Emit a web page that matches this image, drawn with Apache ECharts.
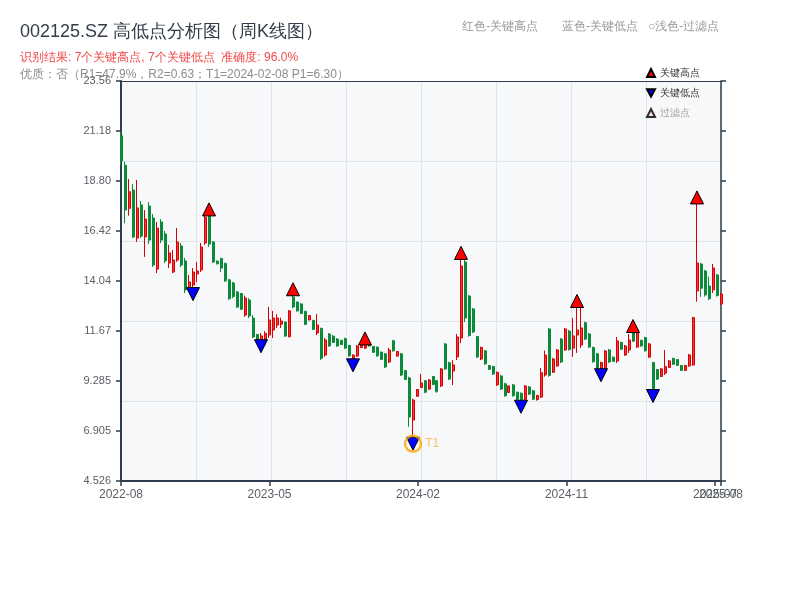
<!DOCTYPE html>
<html>
<head>
<meta charset="utf-8">
<script src="https://cdn.jsdelivr.net/npm/echarts@6/dist/echarts.min.js"></script>
<style>html,body{margin:0;padding:0;background:#fff;}#c{width:800px;height:600px;}</style>
</head>
<body>
<div id="c"></div>
<script>
// weekly candles: [open, close, low, high]
const weeklyOHLC = [
[20.95,19.75,19.55,21.15],[19.55,17.42,16.79,19.72],[17.50,18.29,17.15,18.90],[18.37,16.14,16.09,18.66],
[16.09,17.52,15.90,18.85],[17.66,16.18,16.09,17.85],[16.14,16.99,15.19,17.42],[17.61,15.99,15.80,17.80],
[17.04,14.80,14.71,17.23],[14.61,16.56,14.42,16.85],[16.85,15.99,15.85,16.99],[16.28,15.00,14.90,16.42],
[14.90,15.38,14.66,15.76],[14.47,15.04,14.42,15.52],[15.04,15.90,14.95,16.56],[15.71,14.80,14.71,15.85],
[15.00,13.62,13.47,15.14],[13.62,14.00,13.52,14.33],[13.85,14.47,13.42,14.66],[14.38,14.52,14.00,14.95],
[14.57,15.66,14.47,15.85],[15.85,17.08,15.76,17.28],[17.28,15.80,15.66,17.45],[15.90,14.95,14.90,15.95],
[14.99,14.86,14.83,15.02],[15.12,14.66,14.47,15.14],[14.88,14.05,14.00,14.92],[14.10,13.20,13.14,14.14],
[13.95,13.30,13.23,14.00],[13.52,12.80,12.76,13.57],[13.45,12.70,12.66,13.47],[12.42,13.23,12.34,13.34],
[13.14,12.38,12.28,13.23],[12.28,11.38,11.33,12.42],[11.50,11.12,11.09,11.52],[11.24,11.43,10.94,11.57],
[11.24,11.55,11.19,11.66],[11.47,12.19,11.33,12.81],[11.71,12.28,11.33,12.62],[11.95,12.28,11.81,12.47],
[11.99,12.14,11.81,12.30],[12.09,11.42,11.39,12.11],[11.39,12.62,11.37,12.66],[13.28,12.81,12.74,13.65],
[13.04,12.62,12.59,13.06],[12.95,12.50,12.47,12.99],[12.60,11.98,11.95,12.62],[12.19,12.40,12.17,12.42],
[12.17,11.74,11.71,12.19],[11.57,11.95,11.47,12.47],[11.79,10.36,10.28,11.82],[10.52,11.24,10.44,11.33],
[11.52,10.95,10.92,11.57],[11.42,11.12,11.09,11.47],[11.28,10.95,10.92,11.33],[11.22,11.02,11.00,11.24],
[11.30,10.85,10.81,11.35],[10.98,10.48,10.44,11.00],[10.33,10.52,10.03,10.55],[10.47,10.95,10.43,11.00],
[10.88,11.07,10.86,11.09],[10.85,11.05,10.81,11.31],[11.12,10.95,10.92,11.15],[10.93,10.65,10.62,10.95],
[10.90,10.48,10.44,10.92],[10.66,10.31,10.28,10.68],[10.58,9.95,9.90,10.62],[10.19,10.76,10.14,10.86],
[11.20,10.72,10.68,11.24],[10.47,10.69,10.44,10.71],[10.58,9.57,9.52,10.62],[9.78,9.36,9.33,9.81],
[9.43,7.57,7.11,9.49],[7.43,8.38,6.30,8.43],[8.56,8.88,8.54,8.90],[8.98,9.19,8.95,9.62],
[9.30,8.75,8.71,9.33],[8.90,9.33,8.86,9.38],[9.50,9.12,9.09,9.52],[9.30,8.78,8.73,9.33],
[9.05,9.86,9.00,9.90],[11.05,9.86,9.81,11.09],[10.15,9.38,9.33,10.20],[9.76,10.05,9.09,10.28],
[10.43,11.38,10.28,11.52],[11.33,14.76,11.09,15.38],[14.95,12.28,12.09,15.09],[13.33,11.45,11.39,13.38],
[12.71,11.62,11.57,12.76],[11.40,10.43,10.38,11.43],[10.33,10.88,10.28,10.92],[10.72,10.10,10.05,10.76],
[10.02,9.84,9.81,10.05],[9.98,9.62,9.57,10.00],[9.10,9.70,9.05,9.73],[9.52,8.90,8.86,9.57],
[9.15,8.58,8.54,9.20],[8.74,9.05,8.71,9.09],[9.10,8.58,8.54,9.14],[8.75,8.42,8.38,8.78],
[8.70,8.40,8.06,8.74],[8.42,9.05,8.38,9.09],[9.00,8.66,8.62,9.05],[8.82,8.42,8.38,8.86],
[8.40,8.60,8.35,8.62],[8.52,9.68,8.48,9.90],[9.57,10.52,9.49,10.73],[11.76,9.55,9.49,11.81],
[9.70,10.33,9.67,10.38],[10.00,10.76,9.97,10.81],[11.28,10.19,10.14,11.33],[10.76,11.76,10.73,11.81],
[11.66,10.78,10.73,11.71],[10.85,11.43,10.44,12.28],[11.47,11.71,10.62,13.09],[11.00,11.81,10.86,12.81],
[12.06,11.28,11.24,12.11],[11.52,10.90,10.86,11.57],[10.88,10.20,10.16,10.92],[10.58,9.90,9.86,10.62],
[9.86,10.16,9.56,10.20],[9.76,10.71,9.71,10.76],[10.76,10.19,10.14,10.81],[10.42,10.22,10.20,10.44],
[10.24,11.19,10.14,11.38],[11.12,10.80,10.76,11.15],[10.52,10.95,10.49,11.00],[10.76,11.24,10.62,11.52],
[11.60,11.18,11.15,11.90],[10.90,11.66,10.86,11.71],[11.22,10.95,10.92,11.24],[11.35,10.72,10.68,11.39],
[10.42,11.05,10.39,11.09],[10.16,8.78,8.57,10.20],[9.83,9.38,9.33,9.86],[9.50,9.86,9.47,9.90],
[9.66,9.97,9.57,10.76],[9.93,10.24,9.90,10.28],[10.36,10.08,10.05,10.39],[10.30,10.03,10.00,10.33],
[10.02,9.79,9.76,10.05],[9.79,10.02,9.76,10.05],[10.00,10.52,9.97,10.57],[10.05,12.30,10.01,12.34],
[13.57,14.90,13.06,18.02],[14.85,13.70,13.29,14.90],[14.52,13.38,13.30,14.57],[13.80,13.20,13.14,14.25],
[13.62,14.66,13.47,14.85],[14.33,13.35,13.30,14.38],[12.95,13.42,12.90,13.47]
];
// key points: [week index, price]
const keyHighs = [[22,17.45],[43,13.65],[61,11.31],[85,15.38],[114,13.09],[128,11.90],[144,18.02]];
const keyLows  = [[18,13.42],[35,10.94],[58,10.03],[73,6.30],[100,8.06],[120,9.56],[133,8.57]];
const filteredPoints = [];
const t1Point = [[73,6.30]];
// axis ticks
const xTickLabels = ['2022-08','2023-05','2024-02','2024-11','2025-07'];
const xEndLabel = '2025-08';
const yTickLabels = ['4.526','6.905','9.285','11.67','14.04','16.42','18.80','21.18','23.56'];
const yMin = 4.526, yMax = 23.56;

const weekIdx = weeklyOHLC.map((_, i) => String(i));
const lastIdx = weeklyOHLC.length - 1;
const axisColor = '#2e3d4d';
const labelColor = '#5a5f66';
const yInterval = (yMax - yMin) / 8;
const grayTitle = {fontSize: 12, fontWeight: 'normal', color: '#999'};

const chart = echarts.init(document.getElementById('c'), null, {renderer: 'canvas'});
chart.setOption({
  animation: false,
  textStyle: {fontFamily: 'sans-serif'},
  title: [
    {text: '002125.SZ 高低点分析图（周K线图）', left: 20, top: 23, padding: 0, textStyle: {fontSize: 18, fontWeight: 'normal', color: '#333d4a'}},
    {text: '识别结果: 7个关键高点, 7个关键低点  准确度: 96.0%', left: 20, top: 52, padding: 0, textStyle: {fontSize: 12, fontWeight: 'normal', color: '#f04a4a'}},
    {text: '优质：否（R1=47.9%，R2=0.63；T1=2024-02-08 P1=6.30）', left: 20, top: 69, padding: 0, textStyle: {fontSize: 12, fontWeight: 'normal', color: '#8c8c8c'}},
    {text: '红色-关键高点', left: 462, top: 21, padding: 0, textStyle: grayTitle},
    {text: '蓝色-关键低点', left: 562, top: 21, padding: 0, textStyle: grayTitle},
    {text: '○浅色-过滤点', left: 648, top: 21, padding: 0, textStyle: grayTitle}
  ],
  legend: {
    orient: 'vertical', left: 641, top: 63, itemWidth: 8, itemHeight: 8, itemGap: 10,
    textStyle: {fontSize: 10, color: '#333'},
    data: [
      {name: '关键高点'},
      {name: '关键低点', icon: 'path://M0,0L12,0L6,11Z'},
      {name: '过滤点', textStyle: {color: '#a0a0a0'}}
    ]
  },
  grid: {left: 121, top: 81, width: 600, height: 400, show: true, backgroundColor: '#f6f8fa', borderWidth: 0},
  xAxis: [
    {
      type: 'value', position: 'bottom', min: 0, max: lastIdx, interval: 37.125,
      axisLine: {show: true, onZero: false, lineStyle: {color: axisColor, width: 2}},
      axisTick: {show: true, length: 5, lineStyle: {color: axisColor, width: 1.5}},
      axisLabel: {color: labelColor, fontSize: 12, margin: 8, showMinLabel: true, showMaxLabel: false,
        formatter: (v, i) => xTickLabels[i] || ''},
      splitLine: {show: false}
    },
    {
      type: 'value', position: 'top', min: 0, max: lastIdx, interval: lastIdx / 8,
      axisLine: {show: true, onZero: false, lineStyle: {color: axisColor, width: 1}},
      axisTick: {show: false}, axisLabel: {show: false},
      splitLine: {show: true, lineStyle: {color: '#e0e3e8', width: 1}}
    },
    {type: 'category', data: weekIdx, boundaryGap: false, show: false},
    {
      type: 'value', position: 'bottom', min: 0, max: lastIdx, interval: lastIdx,
      axisLine: {show: false, onZero: false},
      axisTick: {show: true, length: 5, lineStyle: {color: axisColor, width: 1.5}},
      axisLabel: {color: labelColor, fontSize: 12, margin: 8, showMinLabel: false, showMaxLabel: true,
        formatter: (v) => (v === lastIdx ? xEndLabel : '')},
      splitLine: {show: false}
    }
  ],
  yAxis: [
    {
      type: 'value', position: 'left', min: yMin, max: yMax, interval: yInterval,
      axisLine: {show: true, onZero: false, lineStyle: {color: axisColor, width: 2}},
      axisTick: {show: true, length: 5, lineStyle: {color: axisColor, width: 1.5}},
      axisLabel: {color: labelColor, fontSize: 11, margin: 10, showMinLabel: true, showMaxLabel: true,
        formatter: (v) => yTickLabels[Math.round((v - yMin) / yInterval)] || ''},
      splitLine: {show: false}
    },
    {
      type: 'value', position: 'right', min: yMin, max: yMax, interval: yInterval,
      axisLine: {show: true, onZero: false, lineStyle: {color: axisColor, width: 1.5}},
      axisTick: {show: true, length: 5, lineStyle: {color: axisColor, width: 1.5}},
      axisLabel: {show: false}, splitLine: {show: false}
    },
    {
      type: 'value', position: 'left', min: 0, max: 5, interval: 1,
      axisLine: {show: false}, axisTick: {show: false}, axisLabel: {show: false},
      splitLine: {show: true, lineStyle: {color: '#e0e3e8', width: 1}}
    }
  ],
  series: [
    {
      name: 'K线', type: 'candlestick', xAxisIndex: 2, yAxisIndex: 0, barWidth: 2.5,
      itemStyle: {color: '#f23a3a', borderColor: '#d80000', color0: '#0b8a3a', borderColor0: '#0b8a3a', borderWidth: 1},
      data: weeklyOHLC, z: 2
    },
    {
      name: '关键高点', type: 'scatter', xAxisIndex: 2, yAxisIndex: 0, symbol: 'triangle', symbolSize: 13,
      itemStyle: {color: '#ff0000', borderColor: '#000', borderWidth: 1, opacity: 1},
      data: keyHighs, z: 5
    },
    {
      name: '关键低点', type: 'scatter', xAxisIndex: 2, yAxisIndex: 0, symbol: 'triangle', symbolRotate: 180, symbolSize: 13,
      itemStyle: {color: '#0000ff', borderColor: '#000', borderWidth: 1, opacity: 1},
      data: keyLows, z: 5
    },
    {
      name: '过滤点', type: 'scatter', xAxisIndex: 2, yAxisIndex: 0, symbol: 'triangle', symbolSize: 8,
      itemStyle: {color: '#ffd6d6', borderColor: '#000', borderWidth: 1},
      data: filteredPoints, z: 4
    },
    {
      name: 'T1', type: 'scatter', xAxisIndex: 2, yAxisIndex: 0, symbol: 'circle', symbolSize: 16,
      itemStyle: {color: 'rgba(0,0,0,0)', borderColor: '#ffa500', borderWidth: 2.5},
      label: {show: true, formatter: 'T1', position: 'right', distance: 3, color: '#f7b54a', fontSize: 12},
      data: t1Point, z: 6
    }
  ]
});
</script>
</body>
</html>
